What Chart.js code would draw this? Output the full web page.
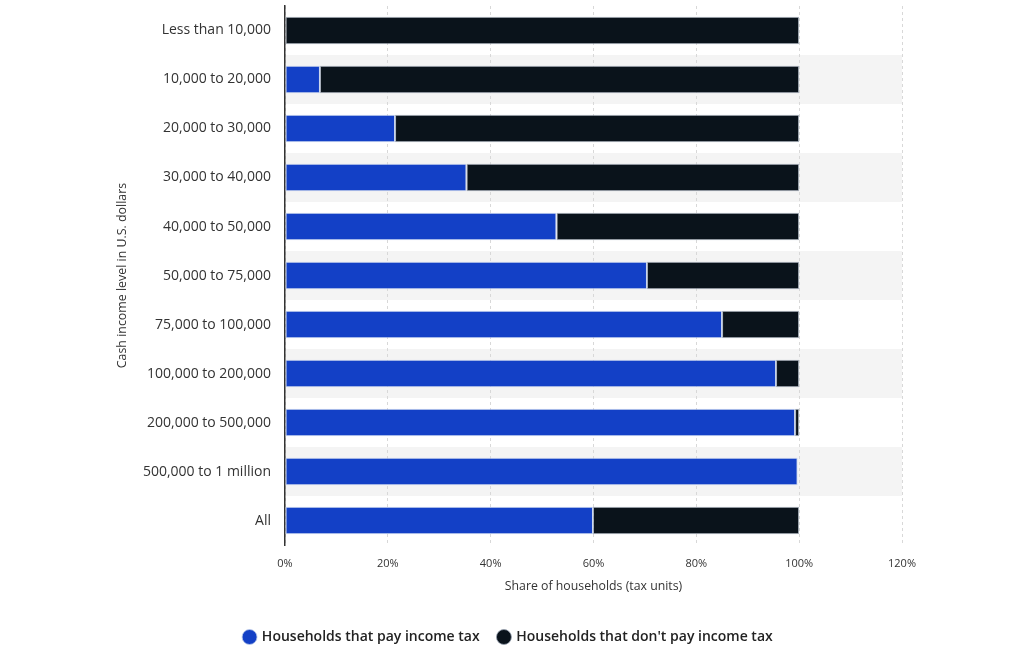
<!DOCTYPE html>
<html>
<head>
<meta charset="utf-8">
<script src="https://cdn.jsdelivr.net/npm/chart.js@4"></script>
<style>
html,body{margin:0;padding:0;background:#fff;}
#wrap{width:1024px;height:650px;position:relative;}
</style>
</head>
<body>
<div id="wrap"><canvas id="c" width="1024" height="650"></canvas></div>
<script>
const categories = ["Less than 10,000","10,000 to 20,000","20,000 to 30,000","30,000 to 40,000","40,000 to 50,000","50,000 to 75,000","75,000 to 100,000","100,000 to 200,000","200,000 to 500,000","500,000 to 1 million","All"];
const payTax =    [0, 6.8, 21.4, 35.3, 52.8, 70.4, 85.0, 95.5, 99.2, 99.7, 59.9];
const noPayTax =  [100, 93.2, 78.6, 64.7, 47.2, 29.6, 15.0, 4.5, 0.8, 0, 40.1];
const xTicks = [0, 20, 40, 60, 80, 100, 120];
const seriesNames = ["Households that pay income tax", "Households that don't pay income tax"];

const bandPlugin = {
  id: 'bands',
  beforeDraw(chart) {
    const {ctx, chartArea, scales} = chart;
    const y = scales.y;
    const n = categories.length;
    const slot = (chartArea.bottom - chartArea.top) / n;
    ctx.save();
    ctx.fillStyle = '#f4f4f4';
    for (let i = 1; i < n; i += 2) {
      const c = y.getPixelForValue(i);
      ctx.fillRect(chartArea.left, c - slot / 2, chartArea.right - chartArea.left, slot);
    }
    ctx.restore();
  }
};

const font = "'Open Sans', 'DejaVu Sans', sans-serif";
new Chart(document.getElementById('c'), {
  type: 'bar',
  data: {
    labels: categories,
    datasets: [
      { label: seriesNames[0], data: payTax, backgroundColor: '#1340c6', borderColor: 'rgba(190,205,235,0.8)', borderWidth: 1, borderSkipped: false, barPercentage: 0.56, categoryPercentage: 1 },
      { label: seriesNames[1], data: noPayTax, backgroundColor: '#0a131b', borderColor: 'rgba(150,160,175,0.8)', borderWidth: 1, borderSkipped: false, barPercentage: 0.56, categoryPercentage: 1 }
    ]
  },
  options: {
    indexAxis: 'y',
    responsive: false,
    animation: false,
    devicePixelRatio: 1,
    layout: { padding: { left: 115, right: 122, top: 6, bottom: -4 } },
    scales: {
      x: {
        stacked: true, min: 0, max: 120,
        afterBuildTicks(s) { s.ticks = xTicks.map(v => ({ value: v })); },
        ticks: { callback: v => v + '%', color: '#333', font: { family: font, size: 11 }, padding: 12 },
        grid: { color: '#d8d8d8', drawTicks: false },
        border: { display: false, dash: [3, 3] },
        title: { display: true, text: 'Share of households (tax units)', color: '#333', font: { family: font, size: 12.3 }, padding: { top: -3, bottom: 17 } }
      },
      y: {
        stacked: true,
        afterFit(s) { s.width = 170; s.paddingTop = 0; s.paddingBottom = 0; },
        ticks: { color: '#333', font: { family: font, size: 14 }, padding: 14 },
        grid: { display: false, drawTicks: false },
        border: { display: true, color: '#333', width: 1.5 },
        title: { display: true, text: 'Cash income level in U.S. dollars', color: '#333', font: { family: font, size: 12.4 }, padding: 0 }
      }
    },
    plugins: {
      legend: {
        position: 'bottom',
        labels: { usePointStyle: true, pointStyle: 'circle', boxWidth: 10.6, boxHeight: 10.6, color: '#222', font: { family: font, size: 14, weight: '600' }, padding: 19 }
      },
      tooltip: { enabled: false }
    }
  },
  plugins: [bandPlugin]
});
</script>
</body>
</html>
